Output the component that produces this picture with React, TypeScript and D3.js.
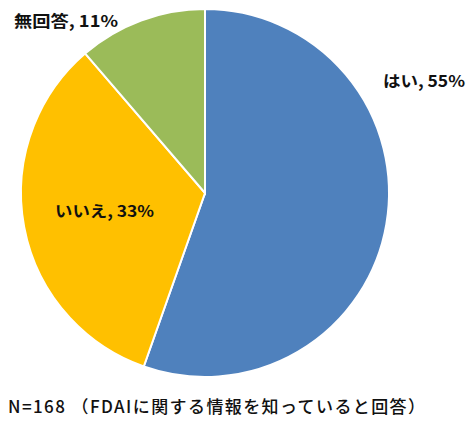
import React from "react";
import * as d3 from "d3";

const categories = ["はい", "いいえ", "無回答"];
const values = [55.4, 33.3, 11.3];
const labels = ["はい, 55%", "いいえ, 33%", "無回答, 11%"];
const colors = ["#4F81BD", "#FFC000", "#9BBB59"];
const footnote = "N=168 （FDAIに関する情報を知っていると回答）";

export default function App() {
  const W = 470, H = 425;
  const cx = 205, cy = 193, r = 184;
  const pie = d3.pie<number>().sort(null).value((d) => d)(values);
  const arc = d3.arc<d3.PieArcDatum<number>>().innerRadius(0).outerRadius(r);
  const labelPos = [
    { x: 383, y: 80, w: 82 },
    { x: 55, y: 210, w: 99 },
    { x: 14, y: 20, w: 104 },
  ];
  const font = "'Noto Sans CJK JP', 'Noto Sans', sans-serif";
  return (
    <svg width={W} height={H} style={{ position: "absolute", left: 0, top: 0 }}>
      <rect width={W} height={H} fill="#fff" />
      <g transform={`translate(${cx},${cy})`}>
        {pie.map((p, i) => (
          <path key={categories[i]} d={arc(p) || ""} fill={colors[i]} stroke="#fff" strokeWidth={2} />
        ))}
      </g>
      {labels.map((t, i) => (
        <text
          key={t}
          x={labelPos[i].x}
          y={labelPos[i].y}
          dominantBaseline="central"
          fontFamily={font}
          fontWeight={700}
          fontSize={16}
          textLength={labelPos[i].w}
          lengthAdjust="spacingAndGlyphs"
          fill="#111"
        >
          {t}
        </text>
      ))}
      <text
        x={8}
        y={405}
        dominantBaseline="central"
        fontFamily={font}
        fontWeight={500}
        fontSize={17}
        textLength={417}
        lengthAdjust="spacing"
        fill="#111"
      >
        {footnote}
      </text>
    </svg>
  );
}
